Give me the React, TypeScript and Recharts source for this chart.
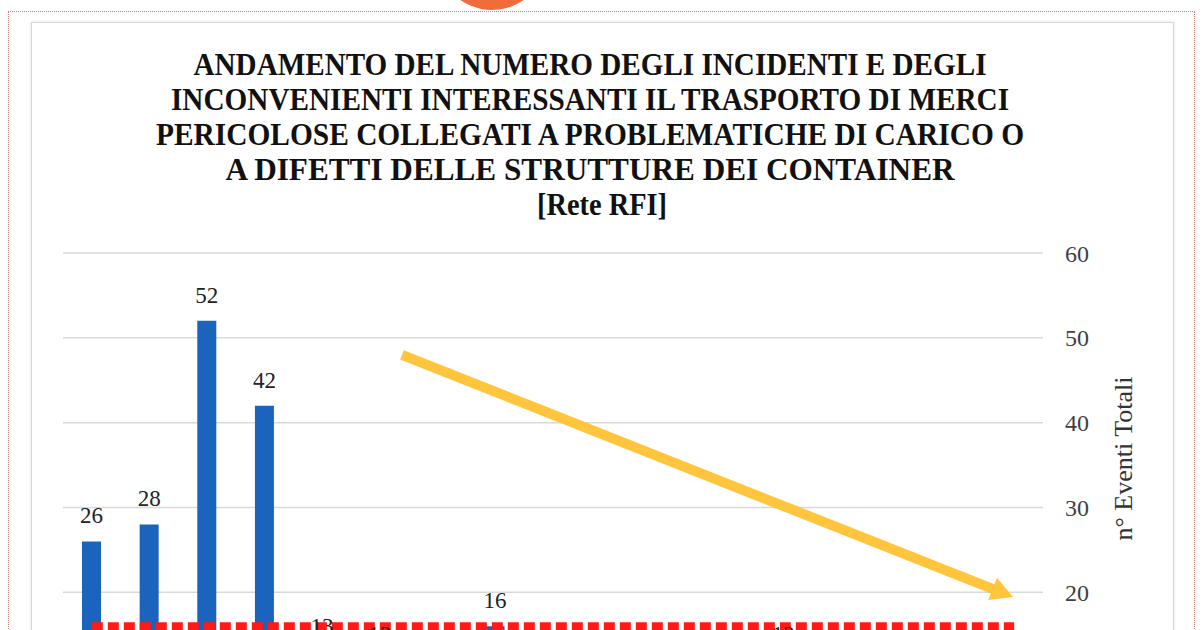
import React from "react";
import {
  Bar,
  CartesianGrid,
  ComposedChart,
  LabelList,
  Label,
  Line,
  ReferenceLine,
  XAxis,
  YAxis,
} from "recharts";

const anni = [
  "2002", "2003", "2004", "2005", "2006", "2007", "2008", "2009", "2010",
  "2011", "2012", "2013", "2014", "2015", "2016", "2017", "2018",
];
const eventiTotali = [26, 28, 52, 42, 13, 12, 9, 16, 8, 10, 7, 9, 12, 8, 6, 7, 5];
const mediaEventi = [16, 16, 16, 16, 16, 16, 16, 16, 16, 16, 16, 16, 16, 16, 16, 16, 16];
// only the ticks that fall inside the visible page
const yTicks = [20, 30, 40, 50, 60];

// trend arrow, in (category index, value) units
const trendStart = { x: 5.38, y: 48.0 };
const trendEnd = { x: 15.98, y: 19.45 };

const titleLines = [
  { text: "ANDAMENTO DEL NUMERO DEGLI INCIDENTI E DEGLI", len: 793 },
  { text: "INCONVENIENTI INTERESSANTI IL TRASPORTO DI MERCI", len: 838 },
  { text: "PERICOLOSE COLLEGATI A PROBLEMATICHE DI CARICO O", len: 868 },
  { text: "A DIFETTI DELLE STRUTTURE DEI CONTAINER", len: 729 },
  { text: "[Rete RFI]", len: 130 },
];

const data = anni.map((anno, i) => ({
  anno,
  idx: i,
  eventi: eventiTotali[i],
  media: mediaEventi[i],
}));

const serif = "'Liberation Serif', 'Times New Roman', serif";

function TrendArrow(props: any) {
  const { x1, y1, x2, y2 } = props;
  if ([x1, y1, x2, y2].some((v) => v == null || isNaN(v))) return null;
  const dx = x2 - x1;
  const dy = y2 - y1;
  const len = Math.sqrt(dx * dx + dy * dy);
  const ux = dx / len;
  const uy = dy / len;
  const headLen = 22;
  const headHalf = 12;
  const bx = x2 - ux * headLen;
  const by = y2 - uy * headLen;
  const px = -uy;
  const py = ux;
  return (
    <g>
      <line
        x1={x1}
        y1={y1}
        x2={bx + ux * 2}
        y2={by + uy * 2}
        stroke="#FFC53D"
        strokeWidth={10}
      />
      <polygon
        points={`${x2},${y2} ${bx + px * headHalf},${by + py * headHalf} ${bx - px * headHalf},${by - py * headHalf}`}
        fill="#FFC53D"
      />
    </g>
  );
}

export default function App() {
  return (
    <div
      style={{
        position: "fixed",
        left: 0,
        top: 0,
        width: 1202,
        height: 630,
        overflow: "hidden",
        background: "#fff",
      }}
    >
      {/* page decoration */}
      <div
        style={{
          position: "absolute",
          left: 8,
          top: 11,
          width: 1185,
          height: 700,
          border: "1px dotted #d87a7a",
        }}
      />
      <div
        style={{
          position: "absolute",
          left: 437,
          top: -100,
          width: 110,
          height: 110,
          borderRadius: "50%",
          background: "#F26B3A",
        }}
      />
      <div
        style={{
          position: "absolute",
          left: 31,
          top: 22,
          width: 1141,
          height: 700,
          border: "1px solid #d6d6d6",
          boxShadow: "0 0 3px rgba(0,0,0,0.12)",
          background: "#fff",
        }}
      />

      <svg
        width={1202}
        height={230}
        style={{ position: "absolute", left: 0, top: 0 }}
      >
        {titleLines.map((l, i) => (
          <text
            key={i}
            x={i === 4 ? 602 : 590}
            y={75 + i * 35}
            textAnchor="middle"
            textLength={l.len}
            lengthAdjust="spacingAndGlyphs"
            fontFamily={serif}
            fontWeight="bold"
            fontSize={32}
            fill="#111"
          >
            {l.text}
          </text>
        ))}
      </svg>

      <div style={{ position: "absolute", left: 0, top: 0 }}>
        <ComposedChart
          width={1202}
          height={800}
          data={data}
          margin={{ top: 253, left: 63, right: 99, bottom: 38 }}
        >
          <CartesianGrid
            vertical={false}
            stroke="#d9d9d9"
            strokeWidth={1.5}
          />
          <XAxis dataKey="anno" hide />
          <XAxis
            xAxisId="trend"
            dataKey="idx"
            type="number"
            domain={[-0.5, 16.5]}
            hide
          />
          <YAxis
            orientation="right"
            width={60}
            domain={[0, 60]}
            ticks={yTicks}
            axisLine={false}
            tickLine={false}
            tickMargin={16}
            tick={{ fill: "#404040", fontSize: 24, fontFamily: serif }}
          >
            <Label
              value="n° Eventi Totali"
              angle={-90}
              position="center"
              dy={-49}
              dx={50}
              fill="#333"
              fontSize={26}
              fontFamily={serif}
            />
          </YAxis>
          <Bar
            dataKey="eventi"
            fill="#1A64BE"
            barSize={19}
            isAnimationActive={false}
          >
            <LabelList
              dataKey="eventi"
              position="top"
              offset={18}
              fill="#222"
              fontSize={23}
              fontFamily={serif}
            />
          </Bar>
          <Line
            dataKey="media"
            stroke="#FF1A1A"
            strokeWidth={8}
            strokeDasharray="11 5"
            dot={false}
            activeDot={false}
            isAnimationActive={false}
          />
          <ReferenceLine
            xAxisId="trend"
            segment={[trendStart, trendEnd]}
            shape={TrendArrow}
            ifOverflow="visible"
          />
        </ComposedChart>
      </div>
    </div>
  );
}
